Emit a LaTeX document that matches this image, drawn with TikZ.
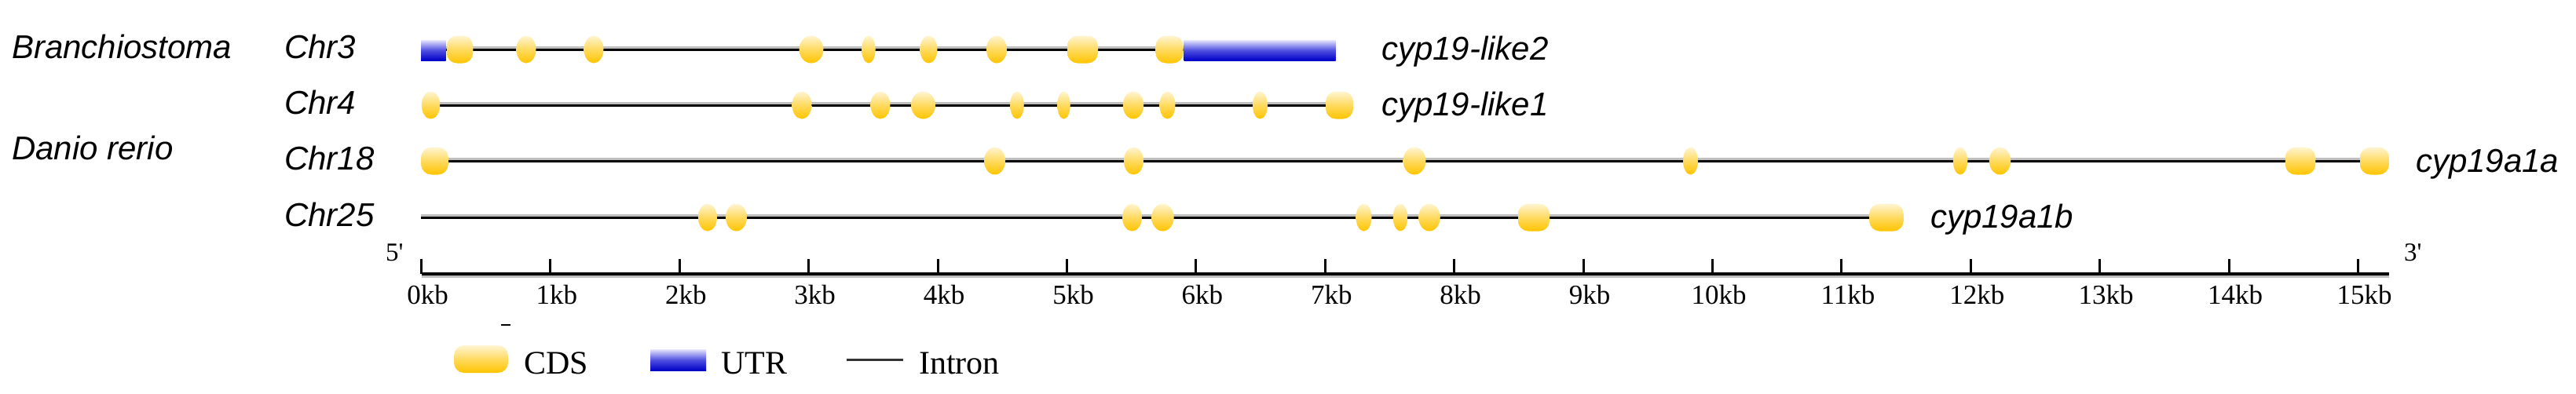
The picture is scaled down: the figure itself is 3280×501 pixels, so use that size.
\documentclass[tikz,border=0pt]{standalone}
\usepackage{fontspec}
\setmainfont{Liberation Serif}
\newfontfamily\lsans{Liberation Sans}
\definecolor{cdsTop}{RGB}{255,245,210}
\definecolor{cdsMid}{RGB}{255,218,95}
\definecolor{cdsBot}{RGB}{255,196,0}
\definecolor{utrTop}{RGB}{228,228,252}
\definecolor{utrMid}{RGB}{80,80,225}
\definecolor{utrBot}{RGB}{0,0,200}
\newcommand\exon[3]{%
  \ifdim #2pt<32pt
    \shade[cds] (#1,#3) ellipse [x radius={#2/2}, y radius=17.5];
  \else
    \shade[cds, rounded corners=13pt] ({#1-#2/2},{#3-17.5}) rectangle ({#1+#2/2},{#3+17.5});
  \fi}
\newcommand\intron[3]{%
  \draw[black!25, line width=5pt] (#1,#3-1.5) -- (#2,#3-1.5);
  \draw[black, line width=3.5pt] (#1,#3+0.5) -- (#2,#3+0.5);}
\begin{document}
\begin{tikzpicture}[x=1pt,y=-1pt,
  lab/.style={font=\lsans\itshape\fontsize{42}{50}\selectfont, inner sep=0pt, anchor=base west},
  ticklab/.style={font=\fontsize{35}{40}\selectfont, inner sep=0pt, anchor=base},
  leg/.style={font=\fontsize{42}{50}\selectfont, inner sep=0pt, anchor=base west},
  cds/.style={top color=cdsTop, bottom color=cdsBot, middle color=cdsMid, draw=none},
  utr/.style={top color=utrTop, bottom color=utrBot, middle color=utrMid, draw=none}]
\useasboundingbox (0,0) rectangle (3280,501);

% species and chromosome labels
\node[lab] (sp1) at (15,74) {Branchiostoma};
\node[lab] (sp2) at (15,203) {Danio rerio};
\node[lab] (c3) at (362,74) {Chr3};
\node[lab] (c4) at (362,145) {Chr4};
\node[lab] (c18) at (362,216) {Chr18};
\node[lab] (c25) at (362,288) {Chr25};

% introns
\intron{536}{1700}{63}
\intron{548.5}{1705.5}{134}
\intron{553.5}{3023.5}{205}
\intron{536}{2402}{277}

% Chr3
\shade[utr] (536,51) rectangle (567.5,77);
\shade[utr] (1507.5,51) rectangle (1700.5,77);
\foreach \x/\w in {585.5/33.5, 670/25, 756/25, 1033/31, 1106/17.5, 1182.5/22, 1269/26, 1378.5/39, 1489/35}
  {\exon{\x}{\w}{63}}
% Chr4
\foreach \x/\w in {548.5/23.5, 1021/25, 1121/25, 1175.5/31, 1295/17.5, 1354.5/16.5, 1443/26.5, 1486.5/20, 1604.5/19, 1705.5/35}
  {\exon{\x}{\w}{134}}
% Chr18
\foreach \x/\w in {553.5/34.5, 1266.6/27, 1443.4/25, 1801/29, 2152.5/19, 2496/18.5, 2546.5/27.5, 2929/38.5, 3023.5/37}
  {\exon{\x}{\w}{205}}
% Chr25
\foreach \x/\w in {901/24, 937.5/27, 1441.5/25, 1480.5/28.5, 1736.5/20, 1783/18.5, 1820/27.5, 1953/40, 2402/43.5}
  {\exon{\x}{\w}{277}}

% gene names
\node[lab] (g1) at (1759,76) {cyp19-like2};
\node[lab] (g2) at (1759,147) {cyp19-like1};
\node[lab] (g3) at (3076,219) {cyp19a1a};
\node[lab] (g4) at (2458,290) {cyp19a1b};

% axis
\draw[black!25, line width=3pt] (536.5,352.5) -- (3042,352.5);
\draw[black, line width=4pt] (536.5,349) -- (3042,349);
\foreach \i in {0,...,15}{
  \draw[black, line width=3pt] ({536.5+164.4*\i},330) -- ({536.5+164.4*\i},349);
  \node[ticklab] (t\i) at ({544.5+164.4*\i},387) {\i kb};
}
\node[font=\fontsize{33}{38}\selectfont, inner sep=0pt, anchor=base west] (p5) at (491,332) {5\textquotesingle};
\node[font=\fontsize{33}{38}\selectfont, inner sep=0pt, anchor=base west] (p3) at (3061,332) {3\textquotesingle};
\draw[black, line width=2pt] (638,414) -- (650,414);

% legend
\shade[cds, rounded corners=13pt] (578,440) rectangle (647,475);
\node[leg] (lcds) at (667,476) {CDS};
\shade[utr] (828,445) rectangle (899,472);
\node[leg] (lutr) at (918,476) {UTR};
\draw[black!80, line width=3pt] (1078,458) -- (1150,458);
\node[leg] (lint) at (1170,476) {Intron};
\end{tikzpicture}
\end{document}
